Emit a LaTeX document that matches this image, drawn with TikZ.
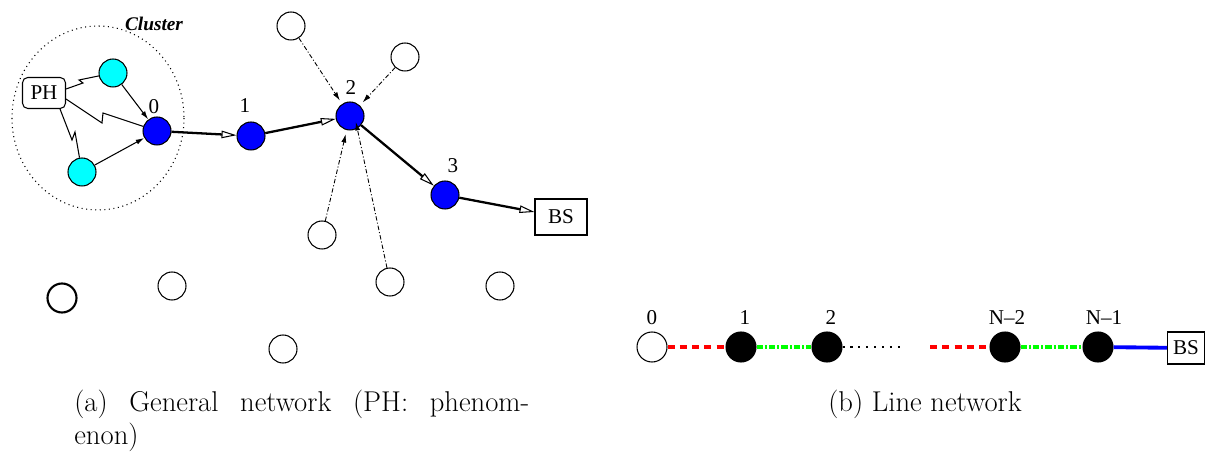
\documentclass[tikz,border=0pt]{standalone}
\usepackage{fontspec}
\newfontfamily\figfont{Liberation Serif}
\usetikzlibrary{arrows.meta,calc}
\definecolor{cyanrgb}{RGB}{0,255,255}
\definecolor{bluergb}{RGB}{0,0,255}
\definecolor{greenrgb}{RGB}{0,255,0}
\definecolor{redrgb}{RGB}{255,0,0}
\begin{document}
\begin{tikzpicture}[x=0.02cm,y=-0.02cm,
  every node/.style={inner sep=0pt},
  nd/.style={circle,draw,line width=0.6pt,minimum size=0.56cm},
  bignd/.style={circle,draw,line width=0.6pt,minimum size=0.6cm},
  bluenode/.style={nd,fill=bluergb},
  cyannode/.style={nd,fill=cyanrgb},
  whitenode/.style={nd,fill=white},
  blacknode/.style={bignd,fill=black},
  lbl/.style={font=\figfont\fontsize{12}{14}\selectfont},
  boxnode/.style={draw,line width=0.6pt,font=\figfont\fontsize{12}{14}\selectfont},
  route/.style={line width=1.3pt,-{Triangle[open,length=0.3cm,width=0.15cm,line width=0.6pt]}},
  thinarrow/.style={line width=0.6pt,-{Latex[length=0.17cm,width=0.1cm]}},
  feed/.style={line width=0.5pt,dash pattern=on 2.5pt off 1.2pt on 0.6pt off 1.2pt,
    -{Latex[length=0.17cm,width=0.1cm]},shorten >=0.08cm},
  zig/.style={line width=0.6pt},
  caption/.style={font=\fontsize{16.3}{18.6}\selectfont}
]
\useasboundingbox (0,0) rectangle (1206,452);

% ---------- (a) general network ----------
\draw[dotted,line width=0.6pt] (98,118) ellipse [x radius=86, y radius=92];
\node[font=\figfont\bfseries\itshape\fontsize{11}{13}\selectfont] (clusterlbl) at (154,24) {Cluster};

\node[boxnode,rounded corners=3pt,minimum width=0.86cm,minimum height=0.62cm] (PH) at (44,93) {PH};
\node[cyannode] (c1) at (113,73) {};
\node[cyannode] (c2) at (82,172) {};
\node[bluenode] (n0) at (157,131) {};
\node[bluenode] (n1) at (251,136) {};
\node[bluenode] (n2) at (350,116) {};
\node[bluenode] (n3) at (445,195) {};
\node[boxnode,minimum width=1.04cm,minimum height=0.72cm] (BS) at (561,217) {BS};

\node[lbl] (l0) at (154,107) {0};
\node[lbl] (l1) at (245,106) {1};
\node[lbl] (l2) at (351,88) {2};
\node[lbl] (l3) at (453,166) {3};

\node[whitenode] (w1) at (291,26) {};
\node[whitenode] (w2) at (405,57) {};
\node[whitenode] (w3) at (322,235) {};
\node[whitenode] (w4) at (390,282) {};
\node[whitenode] (w5) at (500,286) {};
\node[whitenode] (w6) at (172,286) {};
\node[whitenode,line width=1.2pt,minimum size=0.58cm] (w7) at (62,298) {};
\node[whitenode] (w8) at (283,349) {};

% lightning links from the phenomenon
\coordinate (ja1) at (83,83);
\coordinate (ja2) at (79,80);
\coordinate (jb1) at (102,123);
\coordinate (jb2) at (103,113);
\coordinate (jc1) at (72,140);
\coordinate (jc2) at (75,132);
\draw[zig] (PH.east) ++(0,-4) coordinate (pha) -- (ja1) -- (ja2) -- (c1);
\draw[zig] (PH.east) ++(0,6) coordinate (phb) -- (jb1) -- (jb2) -- (n0);
\draw[zig] (PH.south east) ++(-6,0) coordinate (phc) -- (jc1) -- (jc2) -- (c2);

% cluster members to cluster head
\draw[thinarrow] (c1) -- (n0);
\draw[thinarrow] (c2) -- (n0);

% main route
\draw[route] (n0) -- (n1);
\draw[route] (n1) -- (n2);
\draw[route] (n2) -- (n3);
\draw[route] (n3) -- (BS);

% feeding nodes
\draw[feed] (w1) -- (n2);
\draw[feed] (w2) -- (n2);
\draw[feed] (w3) -- (n2);
\draw[feed] (w4) -- ($(n2)+(5,2)$) coordinate (n2b);

\node[caption,anchor=north west,text width=9.1cm,align=justify] (capa) at (74,390)
  {(a) General network (PH: phenom-\linebreak enon)};

% ---------- (b) line network ----------
\node[whitenode,minimum size=0.6cm] (L0) at (652,347) {};
\node[blacknode] (L1) at (741,347) {};
\node[blacknode] (L2) at (827,347) {};
\node[blacknode] (LN2) at (1005,347) {};
\node[blacknode] (LN1) at (1098,347) {};
\node[boxnode,minimum width=0.74cm,minimum height=0.64cm] (LBS) at (1186,348) {BS};
\coordinate (dotend) at (905,347);
\coordinate (dashstart) at (930,347);

\node[lbl] (ll0) at (652,318) {0};
\node[lbl] (ll1) at (745,318) {1};
\node[lbl] (ll2) at (831,318) {2};
\node[lbl] (llN2) at (1007,318) {N–2};
\node[lbl] (llN1) at (1104,318) {N–1};

\draw[redrgb,line width=2.2pt,dash pattern=on 4pt off 3pt] (L0) -- (L1);
\draw[greenrgb,line width=2.2pt,dash pattern=on 3.5pt off 1.2pt on 1.2pt off 1.2pt] (L1) -- (L2);
\draw[black,line width=1.3pt,dash pattern=on 1.2pt off 3.3pt] (L2) -- (dotend);
\draw[redrgb,line width=2.2pt,dash pattern=on 4pt off 3pt] (dashstart) -- (LN2);
\draw[greenrgb,line width=2.2pt,dash pattern=on 3.5pt off 1.2pt on 1.2pt off 1.2pt] (LN2) -- (LN1);
\draw[bluergb,line width=2.2pt] (LN1) -- (LBS);

\node[caption,anchor=base] (capb) at (925,411) {(b) Line network};
\end{tikzpicture}
\end{document}
